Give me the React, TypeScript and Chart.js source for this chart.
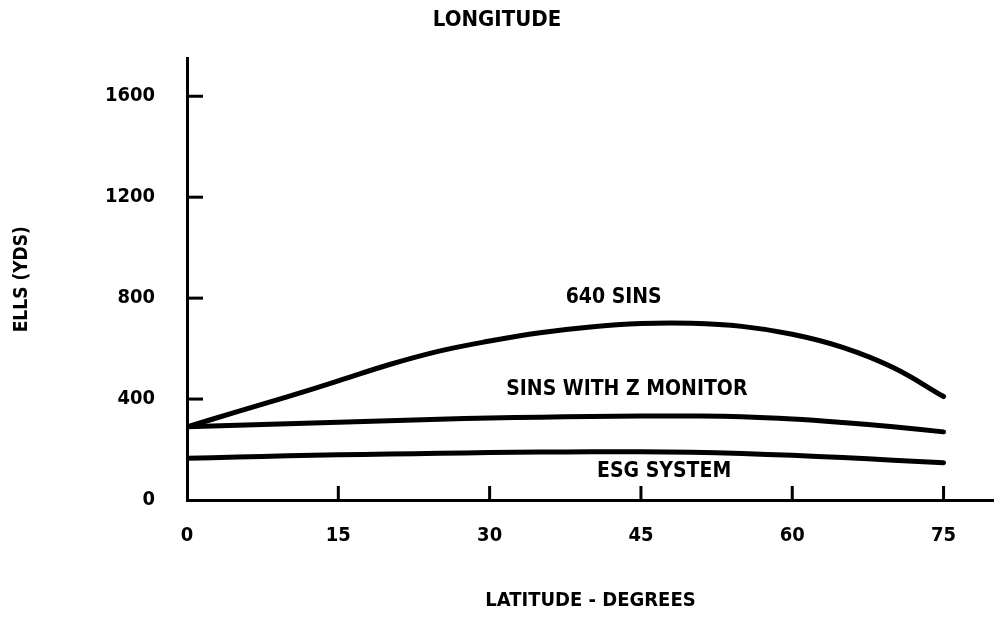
import React, { useEffect, useRef } from "react";
import { Chart, registerables } from "chart.js";

Chart.register(...registerables);

// ---- data ----
const latitudes = [0, 5, 10, 15, 20, 25, 30, 35, 40, 45, 50, 55, 60, 65, 70, 75];
const sins640 = [290, 350, 410, 472, 536, 590, 630, 663, 686, 699, 700, 688, 657, 605, 525, 410];
const sinsZMonitor = [290, 296, 302, 308, 314, 320, 325, 328, 331, 333, 333, 330, 321, 307, 290, 270];
const esgSystem = [165, 170, 175, 179, 182, 185, 188, 190, 191, 191, 189, 184, 177, 168, 158, 148];

const xTickLabels = [0, 15, 30, 45, 60, 75];
const yTickLabels = [0, 400, 800, 1200, 1600];
const xTickMarks = [15, 30, 45, 60, 75];
const yTickMarks = [400, 800, 1200, 1600];

const seriesNames = ["640 SINS", "SINS WITH Z MONITOR", "ESG SYSTEM"];
// label anchor points in data units (latitude, value)
const labelAnchorX = [42.3, 43.6, 47.3];
const labelAnchorY = [804, 436, 111];

const FONT = "'DejaVu Sans Condensed', 'DejaVu Sans', sans-serif";

const overlay = {
  id: "overlay",
  afterDatasetsDraw(chart: any) {
    const { ctx } = chart;
    const xs = chart.scales.x;
    const ys = chart.scales.y;
    const base = ys.getPixelForValue(0);
    const left = xs.getPixelForValue(0);
    ctx.save();
    ctx.strokeStyle = "#000";
    ctx.lineWidth = 3;
    ctx.lineCap = "butt";
    for (const v of yTickMarks) {
      const py = ys.getPixelForValue(v);
      ctx.beginPath();
      ctx.moveTo(left, py);
      ctx.lineTo(left + 16, py);
      ctx.stroke();
    }
    for (const v of xTickMarks) {
      const px = xs.getPixelForValue(v);
      ctx.beginPath();
      ctx.moveTo(px, base);
      ctx.lineTo(px, base - 14);
      ctx.stroke();
    }
    ctx.fillStyle = "#000";
    ctx.font = `bold 21px ${FONT}`;
    ctx.textAlign = "center";
    ctx.textBaseline = "middle";
    seriesNames.forEach((name, i) => {
      ctx.fillText(name, xs.getPixelForValue(labelAnchorX[i]), ys.getPixelForValue(labelAnchorY[i]));
    });
    ctx.restore();
  },
};

export default function App() {
  const ref = useRef<HTMLCanvasElement | null>(null);
  useEffect(() => {
    if (!ref.current) return;
    const mk = (vals: number[]) => latitudes.map((x, i) => ({ x, y: vals[i] }));
    const ds = (vals: number[], label: string) => ({
      label,
      data: mk(vals),
      borderColor: "#000",
      backgroundColor: "#000",
      borderWidth: 5,
      pointRadius: 0,
      tension: 0.4,
      borderCapStyle: "round" as const,
      fill: false,
    });
    const chart = new Chart(ref.current, {
      type: "line",
      data: {
        datasets: [ds(sins640, seriesNames[0]), ds(sinsZMonitor, seriesNames[1]), ds(esgSystem, seriesNames[2])],
      },
      options: {
        animation: false,
        responsive: false,
        layout: { padding: 0 },
        plugins: {
          legend: { display: false },
          tooltip: { enabled: false },
          title: {
            display: true,
            text: "LONGITUDE",
            color: "#000",
            font: { family: FONT, size: 22, weight: "bold" },
            padding: { top: 7, bottom: 25 },
          },
        },
        scales: {
          x: {
            type: "linear",
            min: 0,
            max: 80,
            afterBuildTicks: (s: any) => {
              s.ticks = xTickLabels.map((v) => ({ value: v }));
            },
            afterFit: (s: any) => {
              s.height = 118;
            },
            grid: { display: false, drawTicks: false },
            border: { display: true, color: "#000", width: 3 },
            ticks: {
              color: "#000",
              padding: 24,
              maxRotation: 0,
              callback: (v: any) => String(v),
              font: { family: FONT, size: 20, weight: "bold" },
            },
            title: {
              display: true,
              text: "LATITUDE - DEGREES",
              color: "#000",
              font: { family: FONT, size: 20, weight: "bold" },
              padding: { top: 0, bottom: 5 },
            },
          },
          y: {
            type: "linear",
            min: 0,
            max: 1750,
            afterBuildTicks: (s: any) => {
              s.ticks = yTickLabels.map((v) => ({ value: v }));
            },
            afterFit: (s: any) => {
              s.width = 187;
            },
            grid: { display: false, drawTicks: false },
            border: { display: true, color: "#000", width: 3 },
            ticks: {
              color: "#000",
              padding: 32,
              callback: (v: any) => String(v),
              font: { family: FONT, size: 20, weight: "bold" },
            },
            title: {
              display: true,
              text: "ELLS (YDS)",
              color: "#000",
              font: { family: FONT, size: 19, weight: "bold" },
              padding: { top: 11, bottom: 0 },
            },
          },
        },
      },
      plugins: [overlay],
    });
    return () => chart.destroy();
  }, []);
  return (
    <div style={{ position: "absolute", left: 0, top: 0, width: 994, height: 618, background: "#fff" }}>
      <canvas ref={ref} width={994} height={618} style={{ display: "block" }} />
    </div>
  );
}
